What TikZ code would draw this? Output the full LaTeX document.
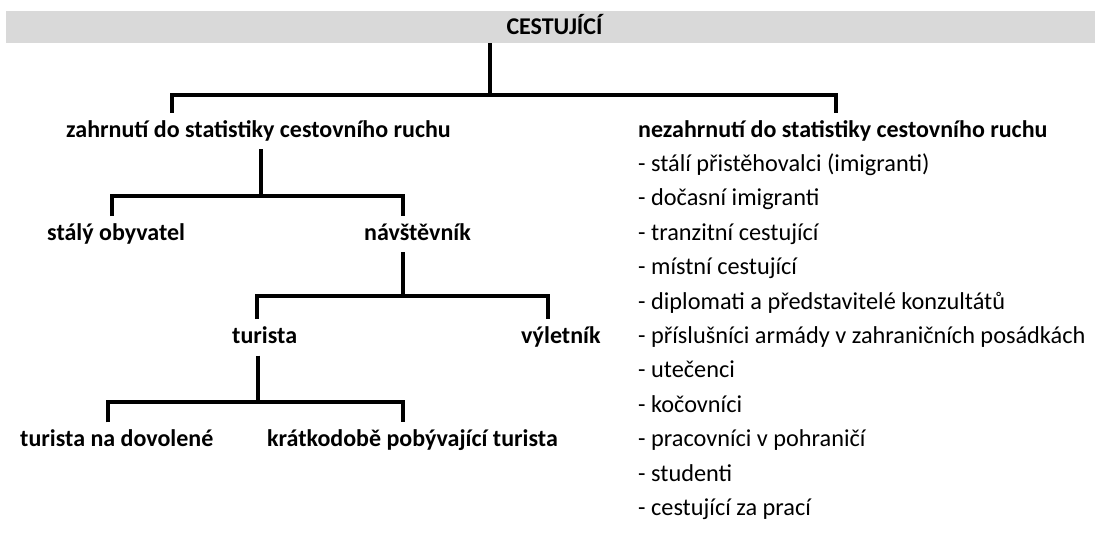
\documentclass[tikz,border=0pt]{standalone}
\usepackage{fontspec}
\setmainfont{Carlito}
\begin{document}
\begin{tikzpicture}[x=1pt,y=-1pt,
  conn/.style={line width=4pt, line join=miter},
  lbl/.style={anchor=base west, inner xsep=0pt, inner ysep=7pt, text height=17pt, text depth=5pt, font=\fontsize{24}{28}\selectfont\bfseries},
  item/.style={anchor=base west, inner sep=0pt, font=\fontsize{24.3}{28}\selectfont},
  band/.style={fill=black!15, draw=none, minimum width=1089pt, minimum height=32pt, inner sep=0pt, text height=15.5pt, text depth=0pt, font=\fontsize{24}{28}\selectfont\bfseries}]
\useasboundingbox (0,0) rectangle (1095,555);
\fill[white] (0,0) rectangle (1095,555);
\node[band] (root) at (550.5,27) {\hspace*{8pt}CESTUJÍCÍ};
\node[lbl] (zah) at (66,137) {zahrnutí do statistiky cestovního ruchu};
\node[lbl] (nez) at (638,137) {nezahrnutí do statistiky cestovního ruchu};
\node[lbl] (stal) at (47,240.2) {stálý obyvatel};
\node[lbl] (nav) at (364,240.2) {návštěvník};
\node[lbl] (tur) at (232,343.4) {turista};
\node[lbl] (vyl) at (521,343.4) {výletník};
\node[lbl] (dov) at (20,446.6) {turista na dovolené};
\node[lbl] (kra) at (267,446.6) {krátkodobě pobývající turista};
\foreach \t [count=\i] in {stálí přistěhovalci (imigranti), dočasní imigranti, tranzitní cestující, místní cestující, diplomati a představitelé konzultátů, příslušníci armády v zahraničních posádkách, utečenci, kočovníci, pracovníci v pohraničí, studenti, cestující za prací}
  \node[item] (it\i) at (638,137+34.4*\i) {- \t};
% fork coordinates
\coordinate (f1) at (490,95);
\coordinate (d1a) at (172,95);
\coordinate (d1b) at (836,95);
\coordinate (f2) at (261,196);
\coordinate (d2a) at (112,196);
\coordinate (d2b) at (403,196);
\coordinate (f3) at (403,296);
\coordinate (d3a) at (257,296);
\coordinate (d3b) at (548,296);
\coordinate (f4) at (258,402);
\coordinate (d4a) at (108,402);
\coordinate (d4b) at (403,402);
\draw[conn] (root.south -| f1) -- (f1);
\draw[conn] (zah.north -| d1a) -- (d1a) -- (d1b) -- (nez.north -| d1b);
\draw[conn] (zah.south -| f2) -- (f2);
\draw[conn] (stal.north -| d2a) -- (d2a) -- (d2b) -- (nav.north -| d2b);
\draw[conn] (nav.south -| f3) -- (f3);
\draw[conn] (tur.north -| d3a) -- (d3a) -- (d3b) -- (vyl.north -| d3b);
\draw[conn] (tur.south -| f4) -- (f4);
\draw[conn] (dov.north -| d4a) -- (d4a) -- (d4b) -- (kra.north -| d4b);
\end{tikzpicture}
\end{document}
